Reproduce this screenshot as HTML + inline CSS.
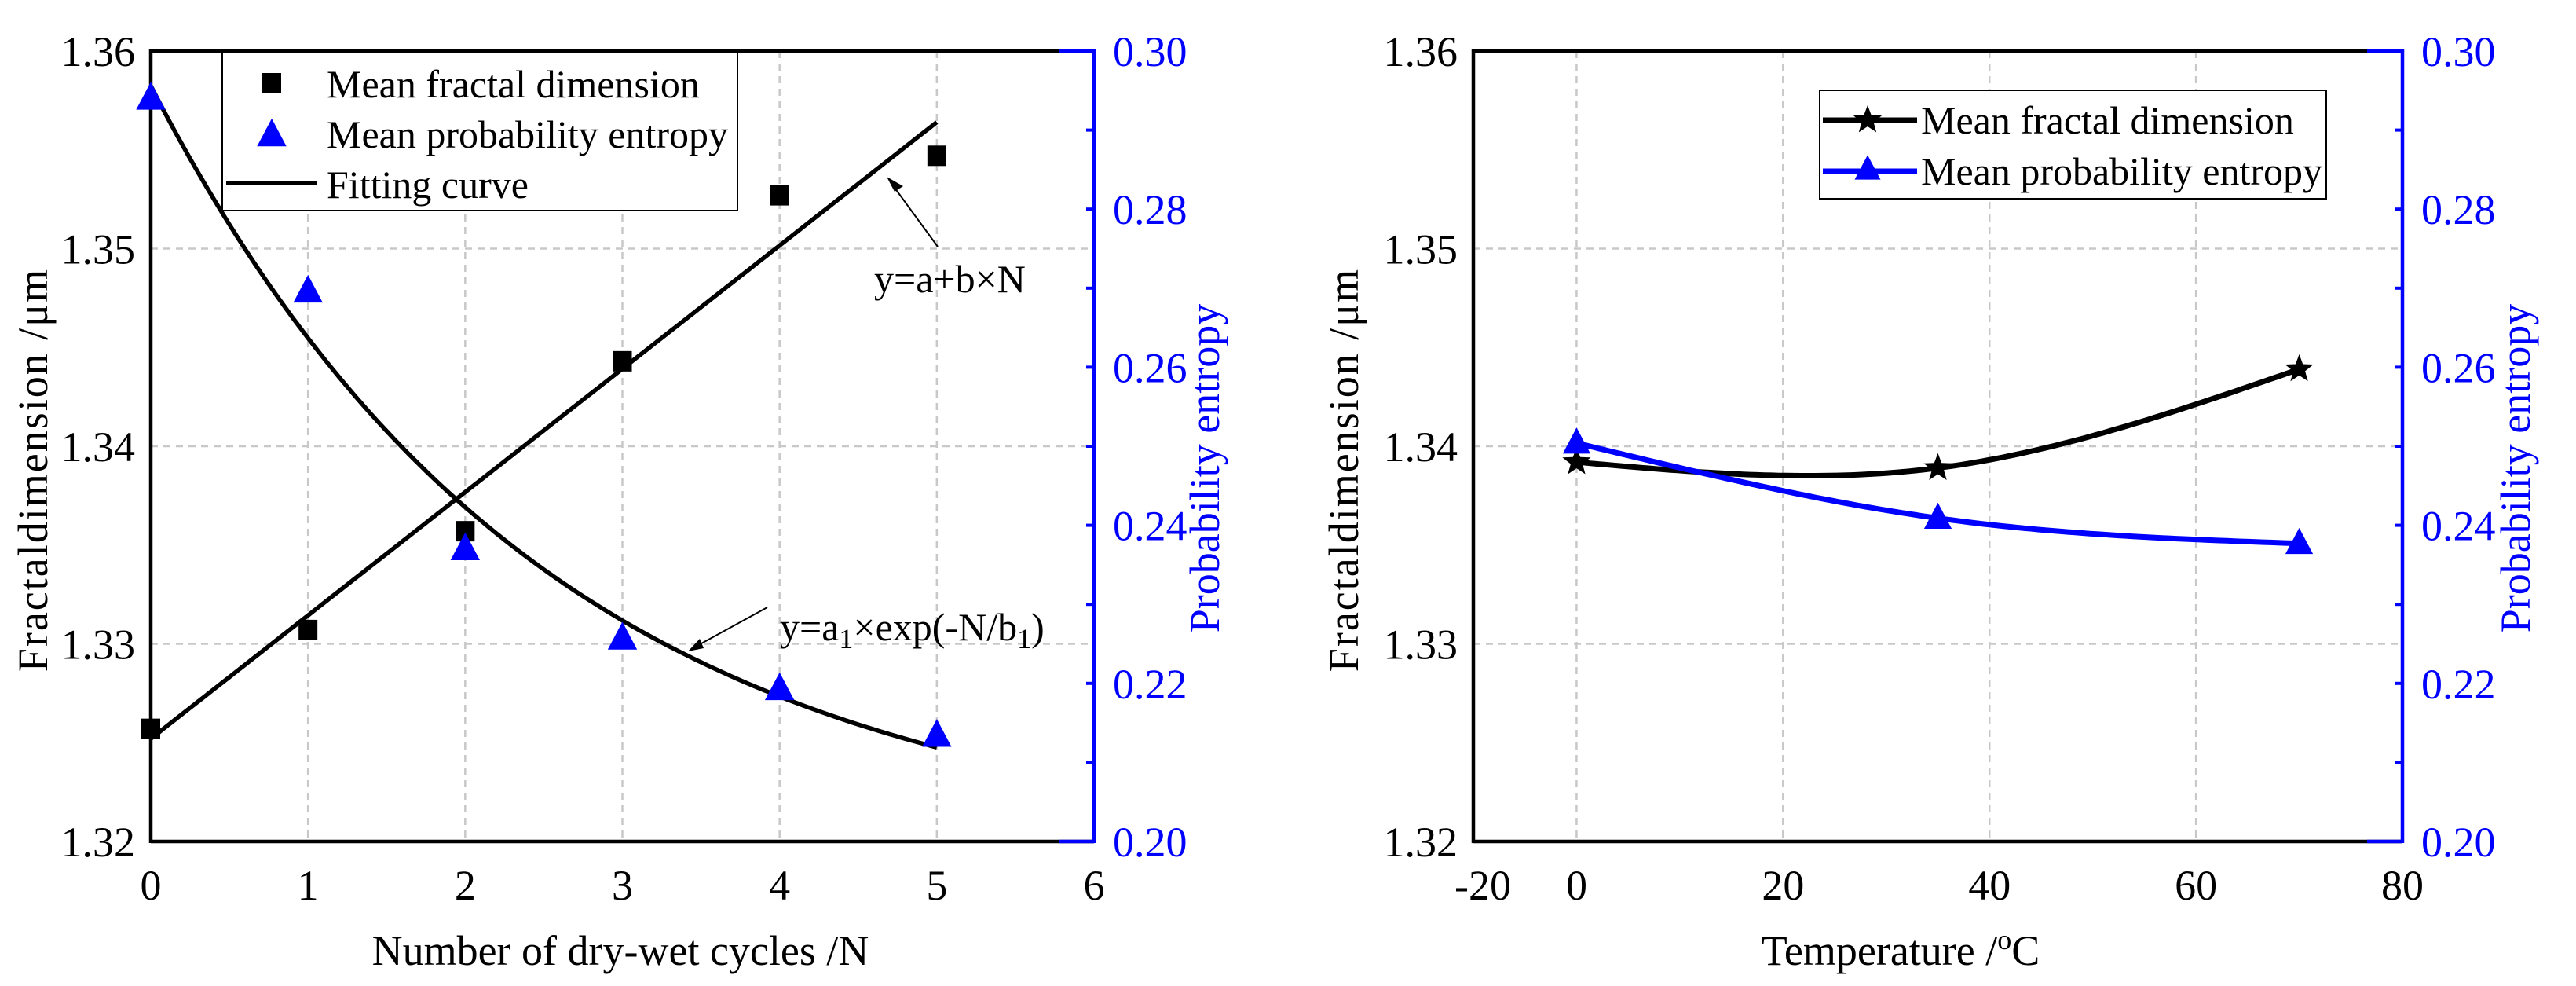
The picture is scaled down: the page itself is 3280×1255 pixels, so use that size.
<!DOCTYPE html>
<html><head><meta charset="utf-8"><style>
html,body{margin:0;padding:0;background:#fff;}
svg{display:block;}
text{font-family:"Liberation Serif","Times New Roman",Times,"DejaVu Serif",serif;}
</style></head><body>
<svg id="fig" width="3280" height="1255" viewBox="0 0 3280 1255" xmlns="http://www.w3.org/2000/svg">
<g id="left"></g>
<g id="right"></g>
</svg>
<script>
// ---- Left chart data ----
const cycles = [0, 1, 2, 3, 4, 5];
const fractalByCycle = [1.3257, 1.3307, 1.3357, 1.3443, 1.3527, 1.3547];
const entropyByCycle = [0.294, 0.2696, 0.237, 0.2257, 0.2193, 0.2134];
const linFit = [1.3252, 0.00624];          // a, b
const expFit = [0.1988, 0.0968, 2.5];      // y0, a1, b1
const leftXTicks = ['0','1','2','3','4','5','6'];
const leftYTicks = ['1.32','1.33','1.34','1.35','1.36'];
const rightYTicks = ['0.20','0.22','0.24','0.26','0.28','0.30'];
// ---- Right chart data ----
const temps = [0, 35, 70];
const fractalByTemp = [1.3392, 1.3389, 1.3439];
const entropyByTemp = [0.2504, 0.2409, 0.2377];
const tempTicks = ['0','20','40','60','80'];

const NS = 'http://www.w3.org/2000/svg';
function mk(parent, tag, attrs, text) {
  const e = document.createElementNS(NS, tag);
  for (const k in attrs) e.setAttribute(k, attrs[k]);
  if (tag === 'text') e.style.fontFamily = '"Liberation Serif", "Times New Roman", Times, "DejaVu Serif", serif';
  if (text !== undefined) e.textContent = text;
  parent.appendChild(e);
  return e;
}
function spline(xs, ys) {
  const n = xs.length, h = [], al = [], l = [1], mu = [0], z = [0], c = new Array(n).fill(0), b = [], d = [];
  for (let i = 0; i < n - 1; i++) h.push(xs[i + 1] - xs[i]);
  for (let i = 1; i < n - 1; i++) al[i] = 3 / h[i] * (ys[i + 1] - ys[i]) - 3 / h[i - 1] * (ys[i] - ys[i - 1]);
  for (let i = 1; i < n - 1; i++) { l[i] = 2 * (xs[i + 1] - xs[i - 1]) - h[i - 1] * mu[i - 1]; mu[i] = h[i] / l[i]; z[i] = (al[i] - h[i - 1] * z[i - 1]) / l[i]; }
  for (let j = n - 2; j >= 0; j--) { c[j] = (z[j] || 0) - (mu[j] || 0) * c[j + 1]; b[j] = (ys[j + 1] - ys[j]) / h[j] - h[j] * (c[j + 1] + 2 * c[j]) / 3; d[j] = (c[j + 1] - c[j]) / (3 * h[j]); }
  return x => { let j = 0; while (j < n - 2 && x > xs[j + 1]) j++; const t = x - xs[j]; return ys[j] + b[j] * t + c[j] * t * t + d[j] * t * t * t; };
}
function tri(g, cx, cy, s, color) {
  return mk(g, 'polygon', {points: `${cx},${cy - s * 0.62} ${cx - s * 0.55},${cy + s * 0.42} ${cx + s * 0.55},${cy + s * 0.42}`, fill: color});
}
function star(g, cx, cy, r) {
  let p = [];
  for (let i = 0; i < 10; i++) { const a = -Math.PI / 2 + i * Math.PI / 5; const rr = i % 2 ? r * 0.42 : r; p.push((cx + rr * Math.cos(a)).toFixed(1) + ',' + (cy + rr * Math.sin(a)).toFixed(1)); }
  return mk(g, 'polygon', {points: p.join(' '), fill: '#000'});
}

function frame(g, X0, X1, Y0, Y1, xTicks, xVal, yVal, xGrid, yGridVals, leftTitle, rightTitle, rightTitleX, leftTitleX, xTitle, xTitleX) {
  xGrid.forEach(v => { const l = mk(g, 'line', {x1: xVal(v), x2: xVal(v), y1: Y0, y2: Y1, stroke: '#c8c8c8', 'stroke-width': 2.5, 'stroke-dasharray': '9,7'});   });
  yGridVals.forEach(v => { const l = mk(g, 'line', {x1: X0, x2: X1, y1: yVal(v), y2: yVal(v), stroke: '#c8c8c8', 'stroke-width': 2.5, 'stroke-dasharray': '9,7'});   });
  let a = mk(g, 'line', {x1: X0, x2: X1, y1: Y0, y2: Y0, stroke: '#000', 'stroke-width': 4.5});
   
  a = mk(g, 'line', {x1: X0, x2: X1, y1: Y1, y2: Y1, stroke: '#000', 'stroke-width': 4.5});
   
  a = mk(g, 'line', {x1: X0, x2: X0, y1: Y0 - 2, y2: Y1 + 2, stroke: '#000', 'stroke-width': 4.5});
   
  a = mk(g, 'line', {x1: X1, x2: X1, y1: Y0 - 2, y2: Y1 + 2, stroke: '#0000ff', 'stroke-width': 4.5});
   
  mk(g, 'line', {x1: X1 - 45, x2: X1, y1: Y1, y2: Y1, stroke: '#0000ff', 'stroke-width': 4.5});
  mk(g, 'line', {x1: X1 - 45, x2: X1, y1: Y0, y2: Y0, stroke: '#0000ff', 'stroke-width': 4.5});
  xTicks.forEach(t => { const x = xVal(parseFloat(t));
    const tx = mk(g, 'text', {x: x, y: 1145, 'font-size': 54, 'text-anchor': 'middle'}, t);
      });
  leftYTicks.forEach(t => { const y = Y1 - (parseFloat(t) - 1.32) / 0.04 * (Y1 - Y0);
    const tx = mk(g, 'text', {x: X0 - 20, y: y + 19, 'font-size': 54, 'text-anchor': 'end'}, t);
      });
  for (let i = 0; i <= 10; i++) { const y = Y1 - i / 10 * (Y1 - Y0);
    mk(g, 'line', {x1: X1 - 10, x2: X1, y1: y, y2: y, stroke: '#0000ff', 'stroke-width': 4}); }
  rightYTicks.forEach(t => { const y = Y1 - (parseFloat(t) - 0.2) / 0.1 * (Y1 - Y0);
    const tx = mk(g, 'text', {x: X1 + 24, y: y + 19, 'font-size': 54, fill: '#0000ff'}, t);
      });
  let tt = mk(g, 'text', {x: leftTitleX, y: (Y0 + Y1) / 2 + 30, 'font-size': 54, 'text-anchor': 'middle', 'letter-spacing': 2, transform: `rotate(-90 ${leftTitleX} ${(Y0 + Y1) / 2 + 30})`}, leftTitle);
   
  tt = mk(g, 'text', {x: rightTitleX, y: (Y0 + Y1) / 2 + 28, 'font-size': 54, 'text-anchor': 'middle', fill: '#0000ff', transform: `rotate(-90 ${rightTitleX} ${(Y0 + Y1) / 2 + 28})`}, rightTitle);
   
  tt = mk(g, 'text', {x: xTitleX, y: 1228, 'font-size': 54, 'text-anchor': 'middle'});
  tt.innerHTML = xTitle;
   
}

// ===== LEFT =====
(function () {
  const g = document.getElementById('left');
  const X0 = 192, X1 = 1393, Y0 = 65, Y1 = 1071;
  const xS = v => X0 + v / 6 * (X1 - X0);
  const yL = v => Y1 - (v - 1.32) / 0.04 * (Y1 - Y0);
  const yR = v => Y1 - (v - 0.2) / 0.1 * (Y1 - Y0);
  frame(g, X0, X1, Y0, Y1, leftXTicks, xS, yL, [1, 2, 3, 4, 5], [1.33, 1.34, 1.35], 'Fractaldimension /μm', 'Probability entropy', 1552, 60, 'Number of dry-wet cycles /N', 790);
  let p1 = [], p2 = [];
  for (let i = 0; i <= 100; i++) { const n = 5 * i / 100;
    p1.push(xS(n).toFixed(1) + ',' + yL(linFit[0] + linFit[1] * n).toFixed(1));
    p2.push(xS(n).toFixed(1) + ',' + yR(expFit[0] + expFit[1] * Math.exp(-n / expFit[2])).toFixed(1)); }
  let c = mk(g, 'polyline', {points: p1.join(' '), fill: 'none', stroke: '#000', 'stroke-width': 5.5});
   
  c = mk(g, 'polyline', {points: p2.join(' '), fill: 'none', stroke: '#000', 'stroke-width': 5.5});
   
  cycles.forEach((n, i) => {
    const s = mk(g, 'rect', {x: xS(n) - 12, y: yL(fractalByCycle[i]) - 13, width: 24, height: 26, fill: '#000'});
     
    const t = tri(g, xS(n), yR(entropyByCycle[i]), 34, '#0000ff');
     
  });
  let a = mk(g, 'text', {x: 1113, y: 372, 'font-size': 50}, 'y=a+b×N');
   
  mk(g, 'line', {x1: 1194, y1: 314, x2: 1134, y2: 232, stroke: '#000', 'stroke-width': 2});
  mk(g, 'polygon', {points: '1129,225 1150,237 1139,244', fill: '#000'});
  a = mk(g, 'text', {x: 993, y: 815, 'font-size': 50});
  a.innerHTML = 'y=a<tspan font-size="36" dy="10">1</tspan><tspan dy="-10">×exp(-N/b</tspan><tspan font-size="36" dy="10">1</tspan><tspan dy="-10">)</tspan>';
   
  mk(g, 'line', {x1: 977, y1: 773, x2: 884, y2: 824, stroke: '#000', 'stroke-width': 2});
  mk(g, 'polygon', {points: '876,829 891,813 896,825', fill: '#000'});
  const lg = mk(g, 'g', {});
   
  mk(lg, 'rect', {x: 283, y: 67, width: 656, height: 201, fill: '#fff', stroke: '#000', 'stroke-width': 2});
  mk(lg, 'rect', {x: 334, y: 93, width: 24, height: 26, fill: '#000'});
  tri(lg, 346, 172, 34, '#0000ff');
  mk(lg, 'line', {x1: 288, x2: 403, y1: 233, y2: 233, stroke: '#000', 'stroke-width': 5.5});
  ['Mean fractal dimension', 'Mean probability entropy', 'Fitting curve'].forEach((t, i) => {
    const e = mk(lg, 'text', {x: 416, y: 124 + i * 64, 'font-size': 50}, t);
      });
})();

// ===== RIGHT =====
(function () {
  const g = document.getElementById('right');
  const X0 = 1876, X1 = 3059, Y0 = 65, Y1 = 1071;
  const xMin = -10, xMax = 80;
  const xS = v => X0 + (v - xMin) / (xMax - xMin) * (X1 - X0);
  const yL = v => Y1 - (v - 1.32) / 0.04 * (Y1 - Y0);
  const yR = v => Y1 - (v - 0.2) / 0.1 * (Y1 - Y0);
  frame(g, X0, X1, Y0, Y1, tempTicks, xS, yL, [0, 20, 40, 60], [1.33, 1.34, 1.35], 'Fractaldimension /μm', 'Probability entropy', 3221, 1729, 'Temperature /<tspan font-size="36" dy="-20">o</tspan><tspan dy="20">C</tspan>', 2420);
  const lbl = mk(g, 'text', {x: X0 + 12, y: 1145, 'font-size': 54, 'text-anchor': 'middle'}, '-20');
   
  const f1 = spline(temps, fractalByTemp), f2 = spline(temps, entropyByTemp);
  let p1 = [], p2 = [];
  const t0 = temps[0], t1 = temps[temps.length - 1];
  for (let i = 0; i <= 100; i++) { const t = t0 + (t1 - t0) * i / 100;
    p1.push(xS(t).toFixed(1) + ',' + yL(f1(t)).toFixed(1));
    p2.push(xS(t).toFixed(1) + ',' + yR(f2(t)).toFixed(1)); }
  let c = mk(g, 'polyline', {points: p1.join(' '), fill: 'none', stroke: '#000', 'stroke-width': 7});
   
  c = mk(g, 'polyline', {points: p2.join(' '), fill: 'none', stroke: '#0000ff', 'stroke-width': 7});
   
  temps.forEach((t, i) => {
    const s = star(g, xS(t), yL(fractalByTemp[i]), 19);
     
    const tr = tri(g, xS(t), yR(entropyByTemp[i]), 32, '#0000ff');
     
  });
  const lg = mk(g, 'g', {});
   
  mk(lg, 'rect', {x: 2317, y: 115, width: 645, height: 138, fill: '#fff', stroke: '#000', 'stroke-width': 2});
  mk(lg, 'line', {x1: 2321, x2: 2441, y1: 153, y2: 153, stroke: '#000', 'stroke-width': 7});
  star(lg, 2378, 153, 19);
  mk(lg, 'line', {x1: 2321, x2: 2441, y1: 218, y2: 218, stroke: '#0000ff', 'stroke-width': 7});
  tri(lg, 2378, 216, 30, '#0000ff');
  ['Mean fractal dimension', 'Mean probability entropy'].forEach((t, i) => {
    const e = mk(lg, 'text', {x: 2446, y: 170 + i * 65, 'font-size': 50}, t);
      });
})();
</script>
</body></html>
